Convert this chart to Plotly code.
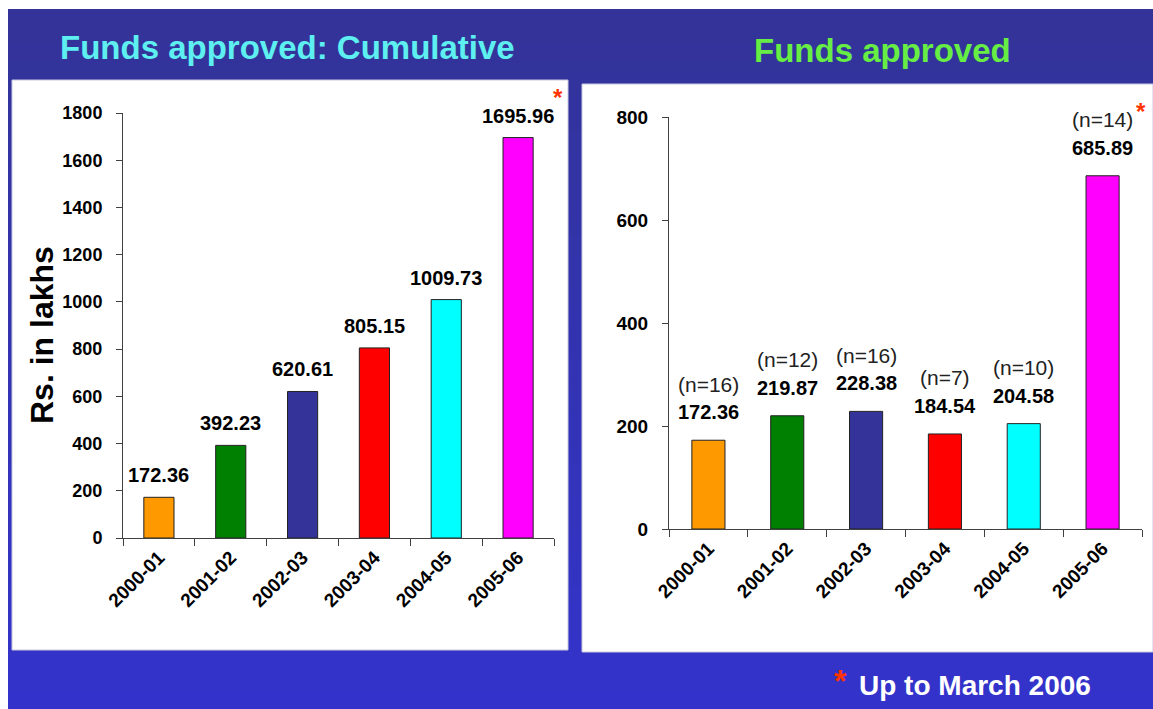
import plotly.graph_objects as go

W, H = 1153, 709

years = ["2000-01", "2001-02", "2002-03", "2003-04", "2004-05", "2005-06"]
cumulative = [172.36, 392.23, 620.61, 805.15, 1009.73, 1695.96]
annual = [172.36, 219.87, 228.38, 184.54, 204.58, 685.89]
projects = [16, 12, 16, 7, 10, 14]
bar_colors = ["#FF9900", "#008000", "#333399", "#FF0000", "#00FFFF", "#FF00FF"]
left_ticks = [0, 200, 400, 600, 800, 1000, 1200, 1400, 1600, 1800]
right_ticks = [0, 200, 400, 600, 800]

FONT = "Liberation Sans, Arial, sans-serif"


def px(x):
    return x / W


def py(y):
    return 1 - y / H


fig = go.Figure()

fig.add_trace(go.Bar(
    x=years, y=cumulative, marker_color=bar_colors,
    marker_line_color="#222222", marker_line_width=1,
    xaxis="x", yaxis="y", showlegend=False, hoverinfo="x+y"))
fig.add_trace(go.Bar(
    x=years, y=annual, marker_color=bar_colors,
    marker_line_color="#222222", marker_line_width=1,
    xaxis="x2", yaxis="y2", showlegend=False, hoverinfo="x+y"))

shapes = []
# gradient blue background
N = 40
top, bot = 9, 709
for i in range(N):
    t = i / (N - 1)
    r, g, b = 51, 51, int(153 + (204 - 153) * t)
    y0 = top + (bot - top) * i / N
    y1 = top + (bot - top) * (i + 1) / N + 1
    shapes.append(dict(type="rect", xref="paper", yref="paper",
                       x0=px(8), x1=1, y0=py(y1), y1=py(y0),
                       fillcolor=f"rgb({r},{g},{b})", line_width=0, layer="below"))
# white panels
shapes.append(dict(type="rect", xref="paper", yref="paper",
                   x0=px(12), x1=px(568), y0=py(650), y1=py(80),
                   fillcolor="white", line=dict(color="#C8C8E0", width=1), layer="below"))
shapes.append(dict(type="rect", xref="paper", yref="paper",
                   x0=px(582), x1=px(1153), y0=py(652), y1=py(84),
                   fillcolor="white", line=dict(color="#C8C8E0", width=1), layer="below"))


def pann(text, x, y, size, color, bold=True, angle=0):
    return dict(text=text, x=px(x), y=py(y), xref="paper", yref="paper",
                xanchor="center", yanchor="middle", showarrow=False,
                textangle=angle,
                font=dict(family=FONT, size=size, color=color,
                          weight="bold" if bold else "normal"))


ann = []
ann.append(pann("Funds approved: Cumulative", 287, 47, 33, "#5EEFF0"))
ann.append(pann("Funds approved", 882, 50, 33, "#66EE44"))
ann.append(pann("Rs. in lakhs", 42, 335, 32, "black", angle=-90))
ann.append(pann("*", 840, 681, 32, "#FF3300"))
ann.append(pann("Up to March 2006", 975, 685, 28, "white"))

for yr, v in zip(years, cumulative):
    ann.append(dict(text=f"{v:.2f}", x=yr, y=v, xref="x", yref="y",
                    xanchor="center", yanchor="middle",
                    showarrow=False, yshift=22,
                    font=dict(family=FONT, size=20, color="black", weight="bold")))
for yr, v, n in zip(years, annual, projects):
    ann.append(dict(text=f"{v:.2f}", x=yr, y=v, xref="x2", yref="y2",
                    xanchor="center", yanchor="middle",
                    showarrow=False, yshift=28,
                    font=dict(family=FONT, size=20, color="black", weight="bold")))
    ann.append(dict(text=f"(n={n})", x=yr, y=v, xref="x2", yref="y2",
                    xanchor="center", yanchor="middle",
                    showarrow=False, yshift=56,
                    font=dict(family=FONT, size=21, color="#222222")))

ann.append(dict(text="*", x=years[-1], y=cumulative[-1], xref="x", yref="y",
                xanchor="center", yanchor="middle",
                showarrow=False, xshift=40, yshift=40,
                font=dict(family=FONT, size=24, color="#FF3300", weight="bold")))
ann.append(dict(text="*", x=years[-1], y=annual[-1], xref="x2", yref="y2",
                xanchor="center", yanchor="middle",
                showarrow=False, xshift=38, yshift=64,
                font=dict(family=FONT, size=24, color="#FF3300", weight="bold")))

axis_common = dict(showline=True, linecolor="#404040", linewidth=1,
                   showgrid=False, zeroline=False, ticks="outside",
                   tickcolor="#404040")

fig.update_layout(
    width=W, height=H,
    margin=dict(l=0, r=0, t=0, b=0, autoexpand=False),
    paper_bgcolor="white", plot_bgcolor="rgba(0,0,0,0)",
    bargap=0.58,
    shapes=shapes, annotations=ann,
    xaxis=dict(domain=[px(123), px(554)], anchor="y", type="category",
               range=[-0.5, 5.5], tickson="boundaries", ticklen=7,
               tickangle=-45,
               tickfont=dict(family=FONT, size=19, color="black", weight="bold"),
               **axis_common),
    yaxis=dict(domain=[py(538), py(113)], anchor="x", range=[0, 1800],
               tickmode="array", tickvals=left_ticks, ticklen=6,
               ticklabelstandoff=10,
               tickfont=dict(family=FONT, size=18, color="black", weight="bold"),
               **axis_common),
    xaxis2=dict(domain=[px(669), px(1142)], anchor="y2", type="category",
                range=[-0.5, 5.5], tickson="boundaries", ticklen=7,
                tickangle=-45,
                tickfont=dict(family=FONT, size=19, color="black", weight="bold"),
                **axis_common),
    yaxis2=dict(domain=[py(529), py(117)], anchor="x2", range=[0, 800],
                tickmode="array", tickvals=right_ticks, ticklen=6,
                ticklabelstandoff=10,
                tickfont=dict(family=FONT, size=19, color="black", weight="bold"),
                **axis_common),
)

fig.write_html(
    "out.html",
    config={"displayModeBar": False},
    post_script="document.body.style.margin='0';document.body.style.overflow='hidden';",
)
